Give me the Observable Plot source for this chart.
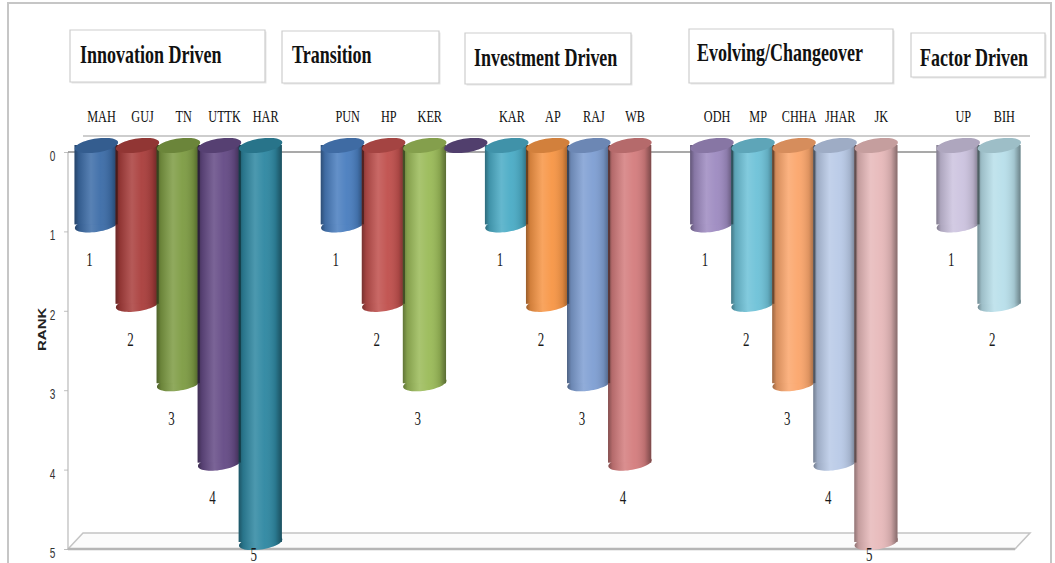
<!DOCTYPE html>
<html><head><meta charset="utf-8">
<script src="https://cdn.jsdelivr.net/npm/d3@7"></script>
<script src="https://cdn.jsdelivr.net/npm/@observablehq/plot@0.6"></script>
<style>
html,body{margin:0;padding:0;background:#fff;overflow:hidden}
#wrap{position:relative;width:1055px;height:563px;overflow:hidden;background:#fff}
#frame{position:absolute;left:7px;top:2px;width:1045px;height:620px;border:2px solid #c6c6c6;box-sizing:border-box}
#chart{position:absolute;left:0;top:0}
</style></head><body>
<div id="wrap"><div id="frame"></div><div id="chart"></div></div>
<script>
// ---------- data ----------
const groups = ["Innovation Driven", "Transition", "Investment Driven", "Evolving/Changeover", "Factor Driven"];
const states = ["MAH","GUJ","TN","UTTK","HAR","","PUN","HP","KER","","KAR","AP","RAJ","WB","","ODH","MP","CHHA","JHAR","JK","","UP","BIH"];
const ranks  = [1,2,3,4,5,null,1,2,3,0,1,2,3,4,null,1,2,3,4,5,null,1,2];
const rankTicks = [0,1,2,3,4,5];
const axisTitle = "RANK";

// ---------- styles / layout ----------
const palette = ["#3d6da8","#aa3f3d","#7e9c44","#654b86","#2f88a2",null,
                 "#4a7ebf","#c0504d","#9bbb59","#5f4a80","#4bacc6","#f79646","#7f9fd3","#d47d7e",null,
                 "#9e8bc1","#6ec2d8","#fba66c","#b9cae7","#e7b9ba",null,"#ccc3df","#b8dfea"];
const S = 0.72;                 // horizontal compression of the drawing
const WIDTH = 1055, HEIGHT = 563;
const W = WIDTH / S;
const px = v => v / S;          // screen px -> plot units (x only)
const mL = px(75), mR = px(WIDTH - 1020), mT = 152, mB = 14;
const boxes = [
  {x: 70,  y: 30, w: 195, h: 52, tx: 80,  base: 63},
  {x: 282, y: 31, w: 157, h: 52, tx: 292, base: 63},
  {x: 465, y: 33, w: 166, h: 51, tx: 474, base: 66},
  {x: 689, y: 29, w: 204, h: 54, tx: 697, base: 61},
  {x: 911, y: 33, w: 134, h: 44, tx: 920, base: 66}
];

const rows = states.map((s, i) => ({i, state: s, rank: ranks[i], color: palette[i]}));
const items = rows.filter(d => d.rank != null);
const filled = items.filter(d => d.rank > 0);

const bw = (W - mL - mR) / states.length;
const RX = bw / 2 + 1.5, RY = 7, SHEAR = 3;
const ellipse = (rx, ry, k) => ({
  draw(ctx) {
    const n = 60;
    for (let j = 0; j <= n; j++) {
      const t = 2 * Math.PI * j / n;
      const x = rx * Math.cos(t), y = ry * Math.sin(t) - k * Math.cos(t);
      j ? ctx.lineTo(x, y) : ctx.moveTo(x, y);
    }
    ctx.closePath();
  }
});
const ell = ellipse(RX, RY, SHEAR);
const capColor = c => d3.color(c).darker(0.45).formatHex();

const defs = () => {
  const d = d3.create("svg:defs");
  const g = d.append("linearGradient").attr("id", "cyl").attr("x1", 0).attr("x2", 1).attr("y1", 0).attr("y2", 0);
  [[0, "#000", 0.38], [0.1, "#000", 0.15], [0.38, "#fff", 0.14], [0.6, "#fff", 0.04], [0.85, "#000", 0.12], [1, "#000", 0.42]]
    .forEach(([o, c, a]) => g.append("stop").attr("offset", o).attr("stop-color", c).attr("stop-opacity", a));
  return d.node();
};

const floor = (index, scales, values, dim) => {
  const y0 = scales.y(0), y5 = scales.y(5);
  const xl = dim.marginLeft - px(7), xr = dim.width - dim.marginRight - px(5);
  const ox = px(15), oy = -16;
  const g = d3.create("svg:g").attr("fill", "none");
  const line = (x1, y1, x2, y2, c, w) => g.append("line").attr("x1", x1).attr("y1", y1).attr("x2", x2).attr("y2", y2)
    .attr("stroke", c).attr("stroke-width", w).attr("vector-effect", "non-scaling-stroke");
  line(xl + ox, y0 + oy, xr + ox, y0 + oy, "#bdbdbd", 1.5);
  line(xl, y0, xl, y5, "#c8c8c8", 1.5);
  g.append("path").attr("d", `M${xl},${y5}L${xr},${y5}L${xr + ox},${y5 + oy}L${xl + ox},${y5 + oy}Z`)
    .attr("stroke", "#c4c4c4").attr("stroke-width", 1.5).attr("fill", "#fbfbfb").attr("vector-effect", "non-scaling-stroke");
  line(xl, y5, xr, y5, "#b5b5b5", 2.5);
  return g.node();
};
const zeroLine = (index, scales, values, dim) => {
  const y0 = scales.y(0);
  const xl = dim.marginLeft - px(7), xr = dim.width - dim.marginRight - px(5);
  return d3.create("svg:line").attr("x1", xl).attr("x2", xr).attr("y1", y0).attr("y2", y0)
    .attr("stroke", "#8c8c8c").attr("stroke-width", 1.6).attr("vector-effect", "non-scaling-stroke").node();
};
const groupBoxes = () => {
  const g = d3.create("svg:g");
  groups.forEach((name, k) => {
    const b = boxes[k];
    g.append("rect").attr("x", px(b.x + 1.5)).attr("y", b.y + 1.5).attr("width", px(b.w)).attr("height", b.h)
      .attr("fill", "#e6e6e6");
    g.append("rect").attr("x", px(b.x)).attr("y", b.y).attr("width", px(b.w)).attr("height", b.h)
      .attr("fill", "#fff").attr("stroke", "#cdcdcd").attr("stroke-width", 1.2).attr("vector-effect", "non-scaling-stroke");
    g.append("text").attr("x", px(b.tx)).attr("y", b.base).text(name)
      .attr("text-anchor", "start")
      .attr("font-family", "Liberation Serif, Times New Roman, serif").attr("font-weight", "bold")
      .attr("font-size", 25).attr("fill", "#111");
  });
  return g.node();
};

const chart = Plot.plot({
  width: W, height: HEIGHT,
  marginLeft: mL, marginRight: mR, marginTop: mT, marginBottom: mB,
  x: {type: "band", domain: d3.range(states.length), padding: 0, axis: null},
  y: {domain: [0, 5], reverse: true},
  color: {type: "identity"},
  style: {background: "transparent", overflow: "visible", color: "#333"},
  marks: [
    defs,
    floor,
    zeroLine,
    // bottom ellipse of each cylinder
    Plot.dot(filled, {x: "i", y: "rank", dy: -RY, r: 5, symbol: ell, fill: "color", stroke: null}),
    Plot.dot(filled, {x: "i", y: "rank", dy: -RY, r: 5, symbol: ell, fill: "url(#cyl)", stroke: null}),
    // cylinder body
    Plot.barY(filled, {x: "i", y1: 0, y2: "rank", dy: -RY, insetLeft: -1.5, insetRight: -1.5, fill: "color"}),
    Plot.barY(filled, {x: "i", y1: 0, y2: "rank", dy: -RY, insetLeft: -1.5, insetRight: -1.5, fill: "url(#cyl)"}),
    // top caps
    Plot.dot(items, {x: "i", y: () => 0, dy: -RY, r: 5, symbol: ell, fill: d => capColor(d.color), stroke: null}),
    // state labels on top
    Plot.text(rows.filter(d => d.state), {x: "i", y: () => 0, text: "state", dy: -36, dx: px(5),
      fontFamily: "Liberation Serif, Times New Roman, serif", fontSize: 17, fill: "#111", lineAnchor: "middle"}),
    // rank value labels
    Plot.text(filled, {x: "i", y: d => Math.min(d.rank + 0.36, 5.07), text: d => String(d.rank), dx: px(-7),
      fontFamily: "Liberation Serif, Times New Roman, serif", fontSize: 18, fill: "#1a1a1a", lineAnchor: "middle"}),
    // y axis
    Plot.axisY({ticks: rankTicks, anchor: "left", tickSize: 5.5, tickFormat: () => "", dx: -px(7), stroke: "#b5b5b5", label: null}),
    Plot.axisY({ticks: rankTicks, anchor: "left", tickSize: 0, tickPadding: 18, dx: -px(7), dy: 4, tickFormat: d3.format("d"),
      fontSize: 14, fontFamily: "Liberation Sans, Arial, sans-serif", label: null}),
    Plot.text([axisTitle], {frameAnchor: "left", rotate: -90, dx: px(42) - mL, text: d => d,
      fontFamily: "Liberation Sans, Arial, sans-serif", fontWeight: "bold", fontSize: 15, fill: "#222"}),
    groupBoxes
  ]
});
chart.setAttribute("width", WIDTH);
chart.setAttribute("height", HEIGHT);
chart.setAttribute("preserveAspectRatio", "none");
chart.style.width = WIDTH + "px";
chart.style.height = HEIGHT + "px";
chart.style.maxWidth = "none";
document.getElementById("chart").appendChild(chart);
</script>
</body></html>
